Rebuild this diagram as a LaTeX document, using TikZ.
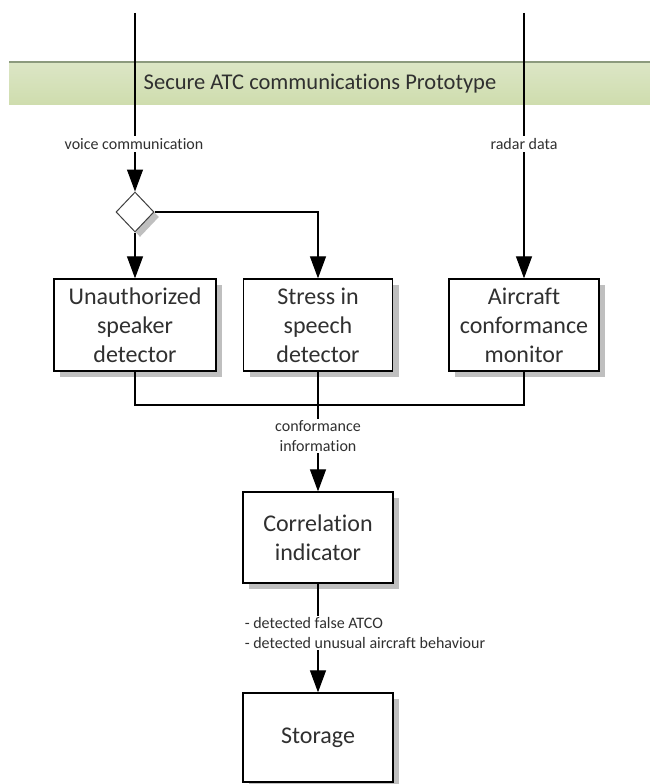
\documentclass[tikz,border=0pt]{standalone}
\usepackage{fontspec}
\setmainfont{Carlito}[RawFeature=-liga]
\usetikzlibrary{shapes.geometric,arrows.meta,shadows}
\definecolor{txt}{HTML}{303030}
\definecolor{bandline}{HTML}{8C9A7E}
\definecolor{bandtop}{HTML}{DCE6C6}
\definecolor{bandmid}{HTML}{E5ECD8}
\definecolor{bandbot}{HTML}{CFDDAE}
\tikzset{
  box/.style={draw=black, line width=1.3pt, fill=white, text=txt,
    font=\fontsize{24}{29}\selectfont, align=center, inner sep=0pt,
    minimum height=92pt,
    drop shadow={shadow xshift=6pt, shadow yshift=-6pt, fill=black!25, opacity=1}},
  decision/.style={diamond, draw=black!75, line width=1pt, fill=white,
    minimum width=38pt, minimum height=40pt, inner sep=0pt,
    drop shadow={shadow xshift=5pt, shadow yshift=-5pt, fill=black!25, opacity=1}},
  flow/.style={line width=1.2pt, -{Triangle[length=22pt,width=16pt]}},
  plain/.style={line width=1.2pt},
  lbl/.style={fill=white, text=txt, font=\fontsize{16}{19.5}\selectfont,
    inner sep=2pt, align=center},
  titletext/.style={text=txt, font=\fontsize{22.5}{26}\selectfont}
}
\begin{document}
\begin{tikzpicture}[x=1pt,y=-1pt]
\useasboundingbox (0,0) rectangle (650,784);
% band
\shade[top color=bandtop, middle color=bandmid, bottom color=bandbot] (9,62) rectangle (650,104);
\draw[bandline, line width=1.5pt] (9,62) -- (650,62);
\node[titletext] (title) at (320,84) {Secure ATC communications Prototype};
% nodes
\coordinate (vtop) at (135,13);
\coordinate (rtop) at (524,13);
\node[decision] (dia) at (135,212) {};
\node[box, minimum width=162pt] (uns) at (135,325) {Unauthorized\\speaker\\detector};
\node[box, minimum width=149pt] (str) at (318,325) {Stress in\\speech\\detector};
\node[box, minimum width=150pt] (acm) at (524,325) {Aircraft\\conformance\\monitor};
\node[box, minimum width=150pt, minimum height=91pt] (cor) at (318,537.5) {Correlation\\indicator};
\node[box, minimum width=150pt, minimum height=89pt] (sto) at (318,737.5) {Storage};
\coordinate (join) at (318,405);
% connectors
\draw[flow] (vtop) -- (dia.north);
\draw[flow] (rtop) -- (acm.north);
\draw[flow] (dia.south) -- (uns.north);
\draw[flow] (dia.east) -| (str.north);
\draw[plain] (uns.south) |- (join) -| (acm.south);
\draw[plain] (str.south) -- (join);
\draw[flow] (join) -- (cor.north);
\draw[flow] (cor.south) -- (sto.north);
% labels
\node[lbl] (lvoice) at (134,144) {voice communication};
\node[lbl] (lradar) at (524,144) {radar data};
\node[lbl] (lconf) at (318,436) {conformance\\information};
\node[lbl, align=left] (lcor) at (365,633) {- detected false ATCO\\- detected unusual aircraft behaviour};
\end{tikzpicture}
\end{document}
